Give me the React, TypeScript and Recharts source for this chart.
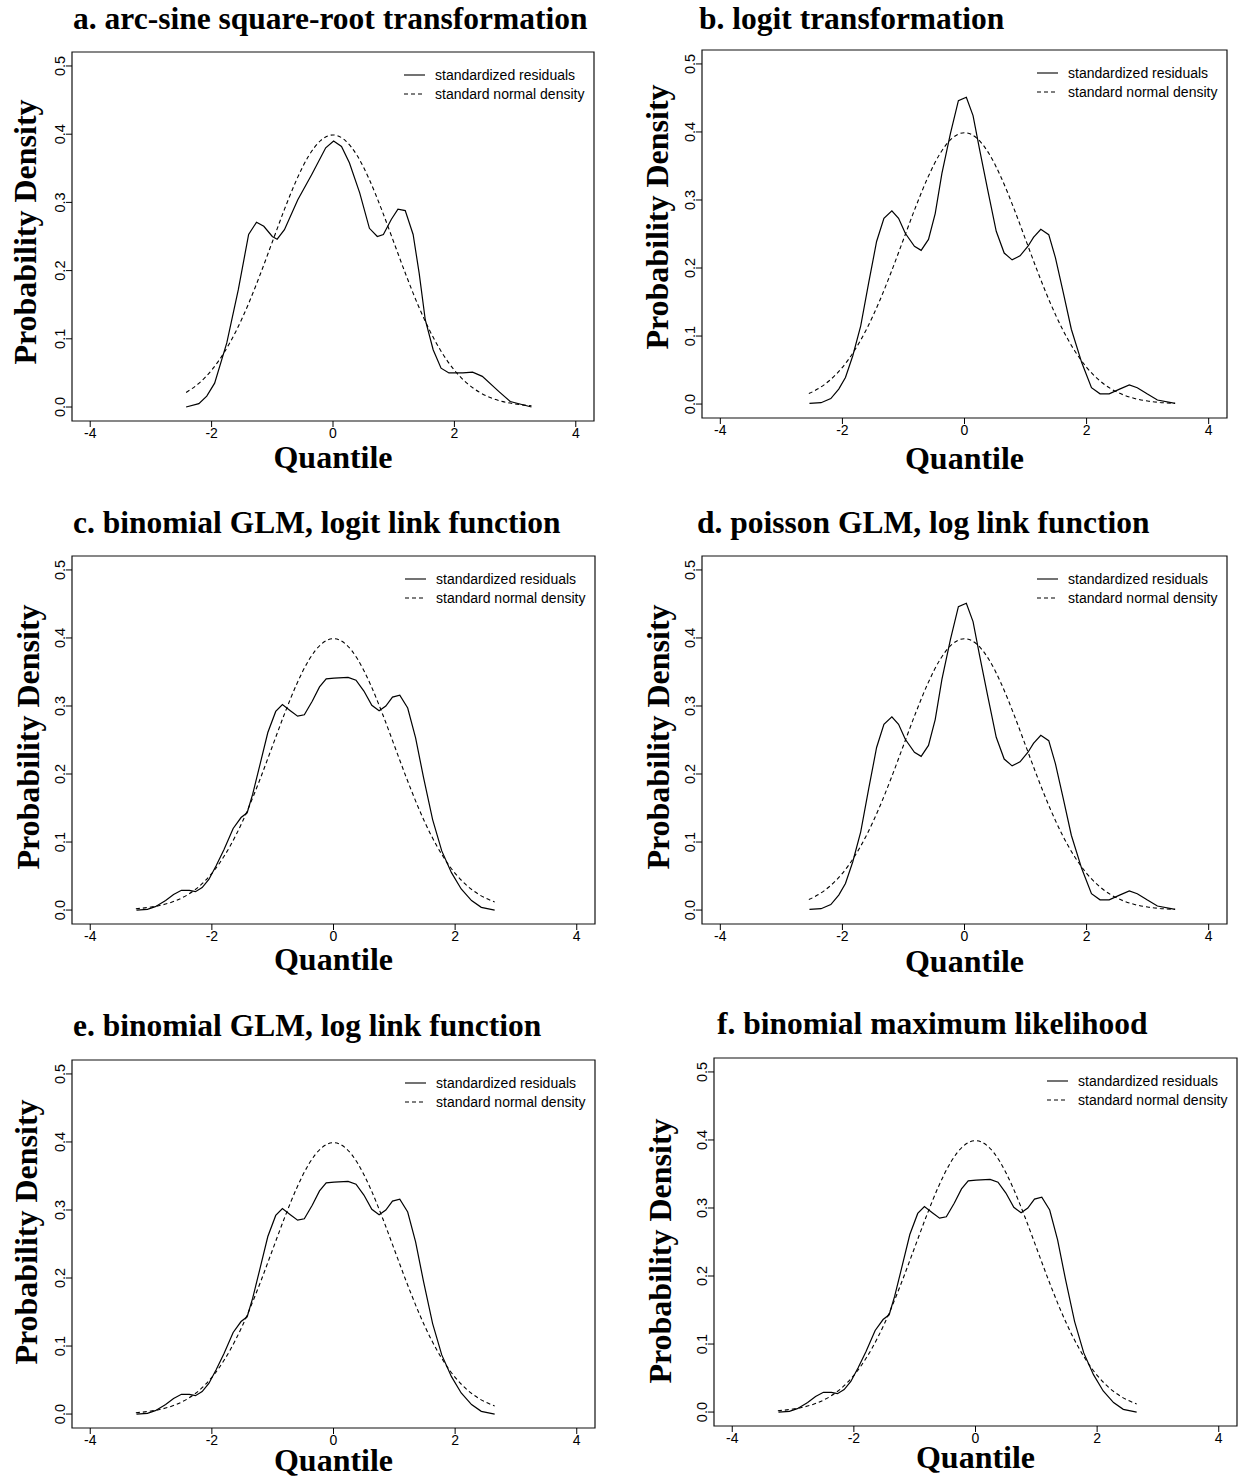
import React from "react";
import { LineChart, Line, XAxis, YAxis, ReferenceArea } from "recharts";

// ---- panel a: arc-sine square-root ----
const aResidQ = [-2.42, -2.21, -2.08, -1.95, -1.75, -1.56, -1.39, -1.26, -1.14, -1.0, -0.92, -0.8, -0.58, -0.35, -0.12, 0.01, 0.14, 0.27, 0.44, 0.6, 0.73, 0.83, 0.96, 1.07, 1.19, 1.32, 1.42, 1.52, 1.65, 1.78, 1.91, 2.14, 2.3, 2.46, 2.73, 2.92, 3.27];
const aResidD = [0.0, 0.005, 0.016, 0.035, 0.094, 0.172, 0.253, 0.271, 0.265, 0.25, 0.246, 0.26, 0.304, 0.341, 0.38, 0.39, 0.382, 0.358, 0.314, 0.262, 0.25, 0.253, 0.275, 0.29, 0.288, 0.253, 0.196, 0.128, 0.084, 0.057, 0.05, 0.05, 0.051, 0.045, 0.023, 0.008, 0.0];
const aNormQ = [-2.42, -2.2, -2.0, -1.8, -1.6, -1.4, -1.2, -1.0, -0.8, -0.6, -0.4, -0.2, 0, 0.2, 0.4, 0.6, 0.8, 1.0, 1.2, 1.4, 1.6, 1.8, 2.0, 2.2, 2.4, 2.6, 2.8, 3.0, 3.27];
const aNormD = [0.0213, 0.0355, 0.054, 0.079, 0.1109, 0.1497, 0.1942, 0.242, 0.2897, 0.3332, 0.3683, 0.391, 0.3989, 0.391, 0.3683, 0.3332, 0.2897, 0.242, 0.1942, 0.1497, 0.1109, 0.079, 0.054, 0.0355, 0.0224, 0.0136, 0.0079, 0.0044, 0.0019];

// ---- panel b: logit ----
const bResidQ = [-2.54, -2.35, -2.19, -2.06, -1.95, -1.83, -1.7, -1.57, -1.44, -1.32, -1.19, -1.08, -0.97, -0.82, -0.71, -0.59, -0.48, -0.37, -0.23, -0.1, 0.03, 0.14, 0.25, 0.38, 0.52, 0.65, 0.78, 0.91, 1.04, 1.13, 1.25, 1.38, 1.49, 1.62, 1.75, 1.92, 2.08, 2.22, 2.37, 2.54, 2.7, 2.83, 2.99, 3.16, 3.45];
const bResidD = [0.001, 0.002, 0.008, 0.022, 0.039, 0.071, 0.115, 0.178, 0.239, 0.273, 0.284, 0.273, 0.251, 0.232, 0.226, 0.242, 0.28, 0.339, 0.398, 0.446, 0.451, 0.424, 0.373, 0.315, 0.254, 0.222, 0.212, 0.218, 0.232, 0.245, 0.257, 0.249, 0.215, 0.163, 0.11, 0.061, 0.024, 0.015, 0.015, 0.022, 0.028, 0.024, 0.015, 0.006, 0.001];
const bNormQ = [-2.55, -2.4, -2.2, -2.0, -1.8, -1.6, -1.4, -1.2, -1.0, -0.8, -0.6, -0.4, -0.2, 0, 0.2, 0.4, 0.6, 0.8, 1.0, 1.2, 1.4, 1.6, 1.8, 2.0, 2.2, 2.4, 2.6, 2.8, 3.0, 3.2, 3.45];
const bNormD = [0.0154, 0.0224, 0.0355, 0.054, 0.079, 0.1109, 0.1497, 0.1942, 0.242, 0.2897, 0.3332, 0.3683, 0.391, 0.3989, 0.391, 0.3683, 0.3332, 0.2897, 0.242, 0.1942, 0.1497, 0.1109, 0.079, 0.054, 0.0355, 0.0224, 0.0136, 0.0079, 0.0044, 0.0024, 0.001];

// ---- panel c: binomial GLM, logit link ----
const cResidQ = [-3.24, -3.06, -2.93, -2.76, -2.63, -2.5, -2.37, -2.27, -2.16, -2.05, -1.93, -1.8, -1.65, -1.52, -1.42, -1.33, -1.2, -1.08, -0.95, -0.84, -0.71, -0.59, -0.48, -0.35, -0.23, -0.12, 0.01, 0.24, 0.37, 0.5, 0.63, 0.75, 0.86, 0.97, 1.09, 1.22, 1.35, 1.48, 1.63, 1.78, 1.94, 2.1, 2.27, 2.43, 2.65];
const cResidD = [0.0, 0.001, 0.005, 0.014, 0.023, 0.029, 0.029, 0.027, 0.033, 0.045, 0.065, 0.089, 0.12, 0.136, 0.143, 0.17, 0.217, 0.261, 0.292, 0.302, 0.293, 0.285, 0.287, 0.307, 0.328, 0.34, 0.341, 0.342, 0.338, 0.322, 0.301, 0.293, 0.3, 0.313, 0.316, 0.297, 0.253, 0.195, 0.133, 0.087, 0.055, 0.031, 0.014, 0.004, 0.0];
const cNormQ = [-3.25, -3.0, -2.8, -2.6, -2.4, -2.2, -2.0, -1.8, -1.6, -1.4, -1.2, -1.0, -0.8, -0.6, -0.4, -0.2, 0, 0.2, 0.4, 0.6, 0.8, 1.0, 1.2, 1.4, 1.6, 1.8, 2.0, 2.2, 2.4, 2.65];
const cNormD = [0.002, 0.0044, 0.0079, 0.0136, 0.0224, 0.0355, 0.054, 0.079, 0.1109, 0.1497, 0.1942, 0.242, 0.2897, 0.3332, 0.3683, 0.391, 0.3989, 0.391, 0.3683, 0.3332, 0.2897, 0.242, 0.1942, 0.1497, 0.1109, 0.079, 0.054, 0.0355, 0.0224, 0.0119];

// d repeats b, e and f repeat c (identical curves in the figure)
const dResidQ = bResidQ, dResidD = bResidD, dNormQ = bNormQ, dNormD = bNormD;
const eResidQ = cResidQ, eResidD = cResidD, eNormQ = cNormQ, eNormD = cNormD;
const fResidQ = cResidQ, fResidD = cResidD, fNormQ = cNormQ, fNormD = cNormD;

const X_TICKS = [-4, -2, 0, 2, 4];
const Y_TICKS = [0, 0.1, 0.2, 0.3, 0.4, 0.5];
const LEGEND_LABELS = ["standardized residuals", "standard normal density"];

const SERIF = "'Liberation Serif', 'Times New Roman', serif";
const SANS = "'Liberation Sans', Arial, Helvetica, sans-serif";

const X_DOMAIN: [number, number] = [-4.3, 4.3];
const Y_DOMAIN: [number, number] = [-0.0205, 0.5205];
const PAD_L = 70;
const PAD_T = 10;
const PAD_B = 40;

const toPts = (q: number[], d: number[]) => q.map((v, i) => ({ q: v, d: d[i] }));

const PANELS = [
  { id: "a", title: "a. arc-sine square-root transformation", tx: 73, ty: 29, L: 72, T: 52, R: 594, B: 421, lx: 25, ly: 232, qy: 468, resid: toPts(aResidQ, aResidD), norm: toPts(aNormQ, aNormD) },
  { id: "b", title: "b. logit transformation", tx: 699, ty: 29, L: 702, T: 50, R: 1227, B: 418, lx: 657, ly: 217, qy: 469, resid: toPts(bResidQ, bResidD), norm: toPts(bNormQ, bNormD) },
  { id: "c", title: "c. binomial GLM, logit link function", tx: 73, ty: 533, L: 72, T: 556, R: 595, B: 924, lx: 28, ly: 737, qy: 970, resid: toPts(cResidQ, cResidD), norm: toPts(cNormQ, cNormD) },
  { id: "d", title: "d. poisson GLM, log link function", tx: 697, ty: 533, L: 702, T: 556, R: 1227, B: 924, lx: 658, ly: 737, qy: 972, resid: toPts(dResidQ, dResidD), norm: toPts(dNormQ, dNormD) },
  { id: "e", title: "e. binomial GLM, log link function", tx: 73, ty: 1036, L: 72, T: 1060, R: 595, B: 1428, lx: 26, ly: 1232, qy: 1471, resid: toPts(eResidQ, eResidD), norm: toPts(eNormQ, eNormD) },
  { id: "f", title: "f. binomial maximum likelihood", tx: 717, ty: 1034, L: 714, T: 1058, R: 1237, B: 1426, lx: 660, ly: 1251, qy: 1468, resid: toPts(fResidQ, fResidD), norm: toPts(fNormQ, fNormD) },
];

function XTick({ x, y, payload }: any) {
  return (
    <text
      x={x}
      y={y + 4}
      dy="0.35em"
      textAnchor="middle"
      fill="#000"
      style={{ fontSize: 14, fontFamily: SANS }}
    >
      {String(payload.value)}
    </text>
  );
}

function YTick({ x, y, payload }: any) {
  const cx = x - 4;
  return (
    <text
      x={cx}
      y={y}
      transform={`rotate(-90 ${cx} ${y})`}
      textAnchor="middle"
      dominantBaseline="central"
      fill="#000"
      style={{ fontSize: 14.5, fontFamily: SANS }}
    >
      {Number(payload.value).toFixed(1)}
    </text>
  );
}

function DensityPanel({ p }: { p: (typeof PANELS)[number] }) {
  const w = p.R - p.L;
  const h = p.B - p.T;
  return (
    <div style={{ position: "absolute", left: p.L - PAD_L, top: p.T - PAD_T }}>
      <LineChart
        width={w + PAD_L + 4}
        height={h + PAD_T + PAD_B}
        margin={{ top: PAD_T, right: 4, bottom: 0, left: 0 }}
      >
        <XAxis
          dataKey="q"
          type="number"
          domain={X_DOMAIN}
          allowDataOverflow
          ticks={X_TICKS}
          tick={<XTick />}
          tickSize={6}
          tickLine={{ stroke: "#000" }}
          axisLine={false}
          height={PAD_B}
          interval={0}
        />
        <YAxis
          type="number"
          domain={Y_DOMAIN}
          allowDataOverflow
          ticks={Y_TICKS}
          tick={<YTick />}
          tickSize={6}
          tickLine={{ stroke: "#000" }}
          axisLine={false}
          width={PAD_L}
          interval={0}
        />
        <ReferenceArea
          x1={X_DOMAIN[0]}
          x2={X_DOMAIN[1]}
          y1={Y_DOMAIN[0]}
          y2={Y_DOMAIN[1]}
          fill="none"
          stroke="#111"
          strokeWidth={1.2}
          ifOverflow="visible"
        />
        <Line
          data={p.norm}
          dataKey="d"
          type="monotone"
          stroke="#000"
          strokeWidth={1.1}
          strokeDasharray="4 3"
          dot={false}
          isAnimationActive={false}
        />
        <Line
          data={p.resid}
          dataKey="d"
          type="linear"
          stroke="#000"
          strokeWidth={1.2}
          dot={false}
          isAnimationActive={false}
        />
      </LineChart>
    </div>
  );
}

export default function App() {
  return (
    <div style={{ position: "absolute", left: 0, top: 0, width: 1238, height: 1478, overflow: "hidden", background: "#fff" }}>
      {PANELS.map((p) => (
        <DensityPanel key={p.id} p={p} />
      ))}
      <svg width={1238} height={1478} style={{ position: "absolute", left: 0, top: 0, pointerEvents: "none" }}>
        {PANELS.map((p) => (
          <g key={p.id}>
            <text x={p.tx} y={p.ty} fontFamily={SERIF} fontWeight="bold" fontSize={31.5} fill="#000">
              {p.title}
            </text>
            <text
              x={p.lx}
              y={p.ly}
              transform={`rotate(-90 ${p.lx} ${p.ly})`}
              textAnchor="middle"
              dominantBaseline="central"
              fontFamily={SERIF}
              fontWeight="bold"
              fontSize={32}
              fill="#000"
            >
              Probability Density
            </text>
            <text x={(p.L + p.R) / 2} y={p.qy} textAnchor="middle" fontFamily={SERIF} fontWeight="bold" fontSize={32} fill="#000">
              Quantile
            </text>
            {LEGEND_LABELS.map((label, i) => {
              const yy = p.T + 23 + i * 19;
              return (
                <g key={label}>
                  <line
                    x1={p.R - 190}
                    x2={p.R - 169}
                    y1={yy}
                    y2={yy}
                    stroke="#000"
                    strokeWidth={1.1}
                    strokeDasharray={i === 1 ? "4 3" : undefined}
                  />
                  <text x={p.R - 159} y={yy} dominantBaseline="central" fontFamily={SANS} fontSize={14} fill="#000">
                    {label}
                  </text>
                </g>
              );
            })}
          </g>
        ))}
      </svg>
    </div>
  );
}
